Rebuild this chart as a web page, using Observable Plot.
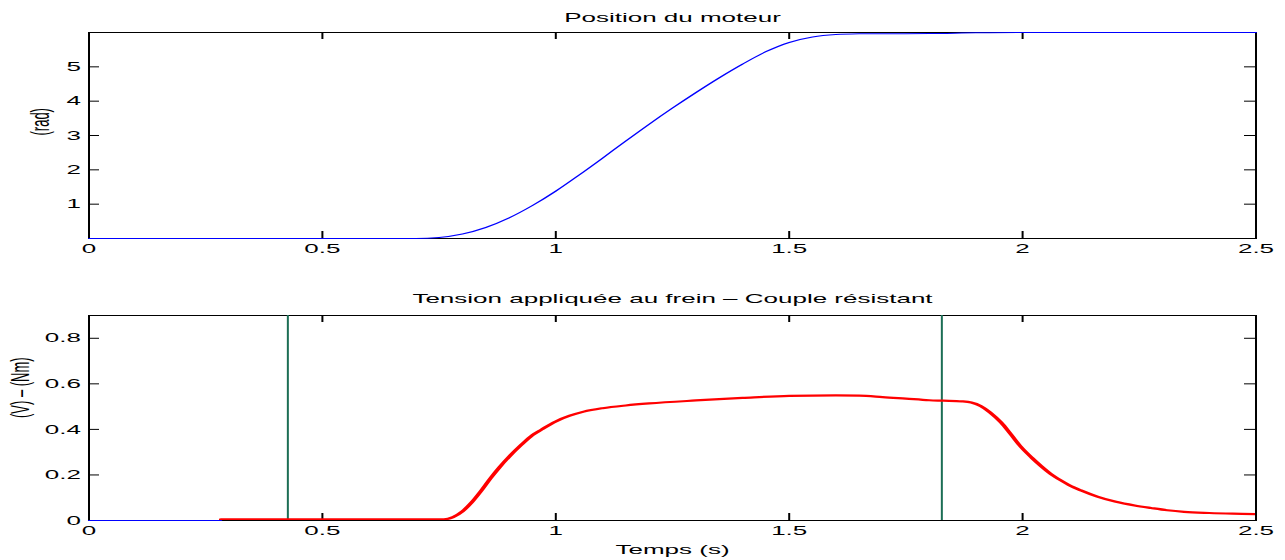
<!DOCTYPE html>
<html>
<head>
<meta charset="utf-8">
<script src="https://cdn.jsdelivr.net/npm/d3@7"></script>
<script src="https://cdn.jsdelivr.net/npm/@observablehq/plot@0.6"></script>
<style>
  html, body { margin: 0; padding: 0; background: #fff; }
  #wrap { position: relative; width: 1285px; height: 560px; overflow: hidden; }
  #wrap svg { position: absolute; left: 0; display: block; }
</style>
</head>
<body>
<div id="wrap"></div>
<script>
// ---- Data ----
const topTitle = "Position du moteur";
const topYLabel = "(rad)";
const posTime  = [0, 0.70, 0.75, 0.80, 0.85, 0.90, 0.95, 1.00, 1.05, 1.10, 1.15, 1.20, 1.25, 1.30, 1.35, 1.40, 1.45, 1.50, 1.55, 1.60, 1.65, 1.70, 1.80, 1.90, 2.00, 2.50];
const posValue = [0, 0.00, 0.03, 0.13, 0.32, 0.60, 0.96, 1.38, 1.85, 2.34, 2.84, 3.33, 3.80, 4.25, 4.68, 5.08, 5.44, 5.71, 5.87, 5.94, 5.96, 5.965, 5.97, 5.99, 6.00, 6.00];

const botTitle = "Tension appliquée au frein – Couple résistant";
const botYLabel = "(V) – (Nm)";
const xLabel = "Temps (s)";

const blueTime  = [0, 0.283];
const blueValue = [0, 0];

const brakeTime  = [0, 0.426, 0.426, 1.827, 1.827, 2.5];
const brakeValue = [0, 0, 5, 5, 0, 0];

const torqueTime  = [0.283, 0.50, 0.76, 0.78, 0.80, 0.82, 0.84, 0.86, 0.88, 0.90, 0.925, 0.95, 0.97, 1.00, 1.03, 1.06, 1.10, 1.15, 1.20, 1.30, 1.40, 1.50, 1.60, 1.65, 1.70, 1.75, 1.80, 1.83, 1.87, 1.89, 1.91, 1.93, 1.954, 1.975, 1.997, 2.02, 2.039, 2.06, 2.082, 2.10, 2.125, 2.16, 2.20, 2.24, 2.275, 2.31, 2.346, 2.40, 2.45, 2.50];
const torqueValue = [0.005, 0.005, 0.005, 0.015, 0.04, 0.08, 0.13, 0.185, 0.235, 0.28, 0.33, 0.375, 0.40, 0.435, 0.46, 0.478, 0.493, 0.505, 0.514, 0.527, 0.538, 0.547, 0.549, 0.548, 0.542, 0.535, 0.528, 0.526, 0.523, 0.518, 0.503, 0.475, 0.43, 0.378, 0.322, 0.275, 0.24, 0.205, 0.176, 0.155, 0.132, 0.105, 0.082, 0.066, 0.055, 0.045, 0.038, 0.033, 0.030, 0.028];

const xTicks = [0, 0.5, 1, 1.5, 2, 2.5];
const topYTicks = [1, 2, 3, 4, 5];
const botYTicks = [0, 0.2, 0.4, 0.6, 0.8];

// ---- Layout (logical width is half the screen width, stretched 2x horizontally like the reference) ----
const W = 642.5, H = 280;
const mL = 44, mR = 15;
const frameW = W - mL - mR;
const font = "'Liberation Sans', Arial, Helvetica, sans-serif";
const xTickLen = 7, yTickLen = 5.5;
const fmt = d3.format("");

const zip = (xs, ys) => xs.map((x, i) => ({x, y: ys[i]}));

function ticksMarks(frameH, yTicks) {
  return [
    Plot.tickX(xTicks, {x: d => d, stroke: "#000", insetTop: frameH - xTickLen}),
    Plot.tickX(xTicks, {x: d => d, stroke: "#000", insetBottom: frameH - xTickLen}),
    Plot.tickY(yTicks, {y: d => d, stroke: "#000", insetRight: frameW - yTickLen}),
    Plot.tickY(yTicks, {y: d => d, stroke: "#000", insetLeft: frameW - yTickLen}),
  ];
}

function stretch(svg, top) {
  svg.setAttribute("width", 1285);
  svg.setAttribute("height", H);
  svg.setAttribute("preserveAspectRatio", "none");
  svg.style.width = "1285px";
  svg.style.height = H + "px";
  svg.style.maxWidth = "none";
  svg.style.top = top + "px";
  return svg;
}

// ---- Top chart ----
const topMT = 32, topMB = 42;
const topFrameH = H - topMT - topMB;
const topChart = Plot.plot({
  width: W, height: H,
  marginLeft: mL, marginRight: mR, marginTop: topMT, marginBottom: topMB,
  style: {fontFamily: font, fontSize: "13px", color: "#000", background: "#fff"},
  x: {domain: [0, 2.5]},
  y: {domain: [0, 6.0]},
  marks: [
    ...ticksMarks(topFrameH, topYTicks),
    Plot.axisX({ticks: xTicks, tickSize: 0, tickPadding: 5, label: null, tickFormat: fmt}),
    Plot.axisY({ticks: topYTicks, tickSize: 0, tickPadding: 4, label: null, tickFormat: fmt}),
    Plot.frame({stroke: "#000", strokeWidth: 1}),
    Plot.line(zip(posTime, posValue), {x: "x", y: "y", stroke: "#0000ff", strokeWidth: 1, curve: "monotone-x"}),
    Plot.text([topTitle], {frameAnchor: "top", dy: -15, lineAnchor: "middle", fill: "#000"}),
    Plot.text([topYLabel], {frameAnchor: "left", dx: -24, rotate: -90, lineAnchor: "middle", fill: "#000"})
  ]
});

// ---- Bottom chart ----
const botMT = 35, botMB = 40;
const botFrameH = H - botMT - botMB;
const botChart = Plot.plot({
  width: W, height: H,
  marginLeft: mL, marginRight: mR, marginTop: botMT, marginBottom: botMB,
  style: {fontFamily: font, fontSize: "13px", color: "#000", background: "#fff"},
  x: {domain: [0, 2.5]},
  y: {domain: [0, 0.9]},
  marks: [
    ...ticksMarks(botFrameH, botYTicks),
    Plot.axisX({ticks: xTicks, tickSize: 0, tickPadding: 5, label: null, tickFormat: fmt}),
    Plot.axisY({ticks: botYTicks, tickSize: 0, tickPadding: 4, label: null, tickFormat: fmt}),
    Plot.frame({stroke: "#000", strokeWidth: 1}),
    Plot.line(zip(brakeTime, brakeValue), {x: "x", y: "y", stroke: "#1c6e55", strokeWidth: 1, clip: true}),
    Plot.line(zip(blueTime, blueValue), {x: "x", y: "y", stroke: "#0000ff", strokeWidth: 1.2}),
    Plot.line(zip(torqueTime, torqueValue), {x: "x", y: "y", stroke: "#ff0000", strokeWidth: 2.2, curve: "monotone-x", clip: true}),
    Plot.text([botTitle], {frameAnchor: "top", dy: -17, lineAnchor: "middle", fill: "#000"}),
    Plot.text([botYLabel], {frameAnchor: "left", dx: -34, rotate: -90, lineAnchor: "middle", fill: "#000"}),
    Plot.text([xLabel], {frameAnchor: "bottom", dy: 29, lineAnchor: "middle", fill: "#000"})
  ]
});

const wrap = document.getElementById("wrap");
wrap.appendChild(stretch(topChart, 0));
wrap.appendChild(stretch(botChart, 280));
</script>
</body>
</html>
